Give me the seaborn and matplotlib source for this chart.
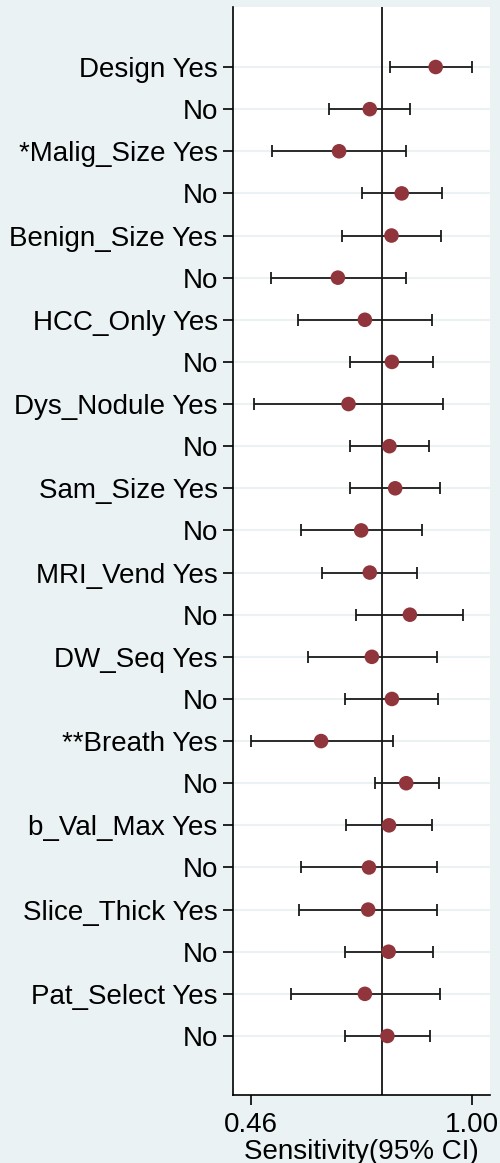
import matplotlib
matplotlib.use("Agg")
import matplotlib.pyplot as plt
import seaborn as sns
import pandas as pd
import numpy as np

labels = ["Design Yes", "No", "*Malig_Size Yes", "No", "Benign_Size Yes", "No",
          "HCC_Only Yes", "No", "Dys_Nodule Yes", "No", "Sam_Size Yes", "No",
          "MRI_Vend Yes", "No", "DW_Seq Yes", "No", "**Breath Yes", "No",
          "b_Val_Max Yes", "No", "Slice_Thick Yes", "No", "Pat_Select Yes", "No"]
estimate = [0.912, 0.751, 0.676, 0.829, 0.804, 0.673, 0.739, 0.805, 0.699, 0.799,
            0.813, 0.730, 0.751, 0.849, 0.756, 0.805, 0.632, 0.840, 0.798, 0.749,
            0.747, 0.797, 0.739, 0.794]
lower = [0.800, 0.651, 0.512, 0.731, 0.682, 0.509, 0.576, 0.703, 0.468, 0.703,
         0.703, 0.582, 0.635, 0.718, 0.599, 0.691, 0.460, 0.763, 0.692, 0.583,
         0.577, 0.690, 0.558, 0.690]
upper = [1.000, 0.849, 0.840, 0.927, 0.926, 0.839, 0.903, 0.905, 0.931, 0.895,
         0.923, 0.879, 0.867, 0.979, 0.914, 0.918, 0.807, 0.919, 0.904, 0.915,
         0.916, 0.905, 0.923, 0.899]
pooled = 0.781
xticks = [0.46, 1.00]
xticklabels = ["0.46", "1.00"]

df = pd.DataFrame({"label": labels, "est": estimate, "lo": lower, "hi": upper})
df["pos"] = np.arange(len(df))

bg = "#EAF2F3"
sns.set_theme(style="white")
plt.rcParams["font.family"] = ["Liberation Sans", "DejaVu Sans"]

fig = plt.figure(figsize=(5.0, 11.63), dpi=100, facecolor=bg)
ax = fig.add_axes([0.466, 0.0585, 0.514, 0.9355])
ax.set_facecolor("white")

for p in df["pos"]:
    ax.axhline(p, color=bg, lw=1.5, zorder=0)

ax.axvline(pooled, color="black", lw=1.2, zorder=1)

ax.errorbar(df["est"], df["pos"],
            xerr=[df["est"] - df["lo"], df["hi"] - df["est"]],
            fmt="none", ecolor="#1a1a1a", elinewidth=1.3, capsize=4.5,
            capthick=1.3, zorder=2)
sns.scatterplot(data=df, x="est", y="pos", ax=ax, color="#90353B", s=110,
                edgecolor="none", linewidth=0, zorder=3, legend=False)

ax.set_xlim(0.4168, 1.0447)
ax.set_ylim(24.40, -1.425)
ax.set_yticks(df["pos"])
ax.set_yticklabels(df["label"])
ax.set_xticks(xticks)
ax.set_xticklabels(xticklabels)
ax.set_xlabel("Sensitivity(95% CI)", fontsize=20, labelpad=1, color="black")
ax.set_ylabel("")
ax.tick_params(axis="y", left=True, length=7, width=1.2, color="black",
               labelsize=20, pad=4, labelcolor="black")
ax.tick_params(axis="x", bottom=True, length=7, width=1.2, color="black",
               labelsize=20, pad=5, labelcolor="black")
for s in ["top", "right"]:
    ax.spines[s].set_visible(False)
for s in ["left", "bottom"]:
    ax.spines[s].set_visible(True)
    ax.spines[s].set_color("black")
    ax.spines[s].set_linewidth(1.2)

fig.savefig("out.png", dpi=100, facecolor=bg)
